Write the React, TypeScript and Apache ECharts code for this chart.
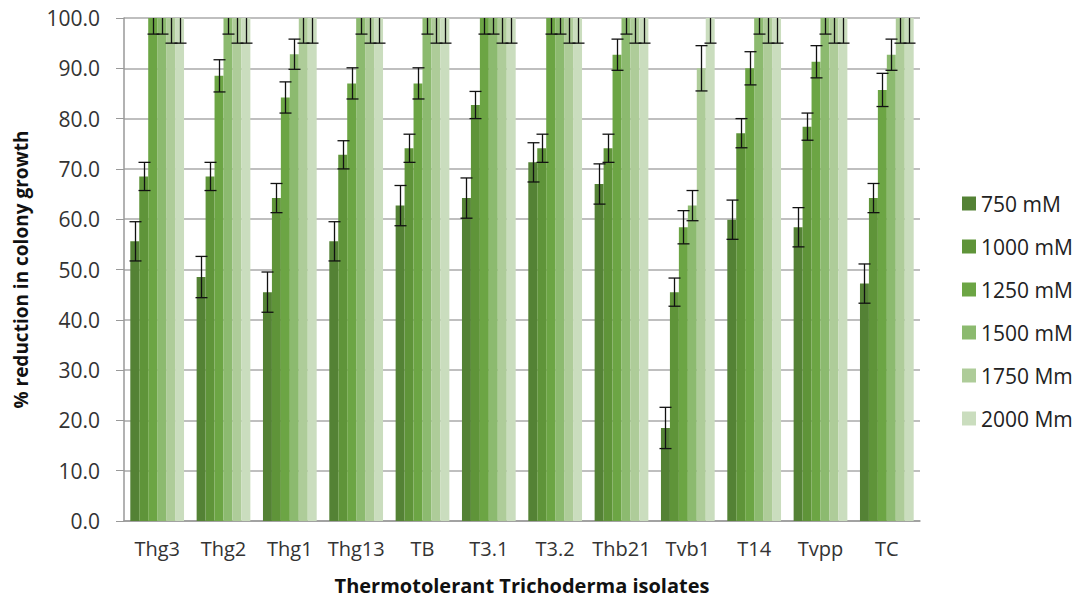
import React, { useEffect, useRef } from "react";
import * as echarts from "echarts";

const categories = ["Thg3", "Thg2", "Thg1", "Thg13", "TB", "T3.1", "T3.2", "Thb21", "Tvb1", "T14", "Tvpp", "TC"];
const seriesNames = ["750 mM", "1000 mM", "1250 mM", "1500 mM", "1750 Mm", "2000 Mm"];
const colors = ["#548235", "#5F9439", "#6CA544", "#8CBA6F", "#AECC99", "#CADDBE"];

const s750 = [55.6, 48.5, 45.5, 55.6, 62.7, 64.2, 71.3, 67.0, 18.5, 59.9, 58.4, 47.2];
const s1000 = [68.5, 68.5, 64.2, 72.8, 74.1, 82.7, 74.1, 74.1, 45.5, 77.1, 78.4, 64.2];
const s1250 = [100, 88.5, 84.2, 87.0, 87.0, 100, 100, 92.7, 58.4, 90.0, 91.3, 85.7];
const s1500 = [100, 100, 92.8, 100, 100, 100, 100, 100, 62.7, 100, 100, 92.7];
const s1750 = [100, 100, 100, 100, 100, 100, 100, 100, 90.0, 100, 100, 100];
const s2000 = [100, 100, 100, 100, 100, 100, 100, 100, 100, 100, 100, 100];

const e750 = [3.9, 4.1, 4.0, 3.9, 4.0, 4.0, 3.9, 4.0, 4.1, 3.9, 3.9, 3.9];
const e1000 = [2.8, 2.8, 2.9, 2.8, 2.8, 2.7, 2.8, 2.8, 2.8, 2.9, 2.7, 2.9];
const e1250 = [3.2, 3.2, 3.1, 3.1, 3.1, 3.2, 3.2, 3.1, 3.3, 3.3, 3.2, 3.3];
const e1500 = [3.2, 3.2, 3.0, 3.2, 3.2, 3.2, 3.2, 3.2, 3.0, 3.2, 3.2, 3.1];
const e1750 = [5.0, 5.0, 5.0, 5.0, 5.0, 5.0, 5.0, 5.0, 4.5, 5.0, 5.0, 5.0];
const e2000 = [5.0, 5.0, 5.0, 5.0, 5.0, 5.0, 5.0, 5.0, 5.0, 5.0, 5.0, 5.0];

const values = [s750, s1000, s1250, s1500, s1750, s2000];
const errors = [e750, e1000, e1250, e1500, e1750, e2000];

const CAT_GAP = 0.19;
const FONT = "'Open Sans', sans-serif";

export default function App() {
  const ref = useRef<HTMLDivElement>(null);

  useEffect(() => {
    if (!ref.current) return;
    const chart = echarts.init(ref.current, null, { renderer: "svg" });

    const errData: number[][] = [];
    values.forEach((arr, k) => {
      arr.forEach((v, i) => {
        errData.push([i, k, v, errors[k][i]]);
      });
    });

    const barSeries = seriesNames.map((name, k) => ({
      name,
      type: "bar",
      data: values[k],
      barGap: "0%",
      barCategoryGap: CAT_GAP * 100 + "%",
      itemStyle: { color: colors[k] },
    }));

    const option = {
      animation: false,
      textStyle: { fontFamily: FONT },
      grid: { left: 124, right: 165, top: 18, bottom: 78, containLabel: false },
      legend: {
        orient: "vertical",
        left: 962,
        top: 193,
        padding: 0,
        itemWidth: 14,
        itemHeight: 14,
        itemGap: 22,
        icon: "rect",
        data: seriesNames,
        textStyle: { fontFamily: FONT, fontSize: 21, color: "#222" },
      },
      xAxis: {
        type: "category",
        data: categories,
        name: "Thermotolerant Trichoderma isolates",
        nameLocation: "middle",
        nameGap: 54,
        nameTextStyle: { fontFamily: FONT, fontSize: 20, fontWeight: "bold", color: "#111" },
        axisLine: { lineStyle: { color: "#999", width: 1.5 } },
        axisTick: { show: false },
        axisLabel: { interval: 0, fontFamily: FONT, fontSize: 20, color: "#333", margin: 17 },
      },
      yAxis: {
        type: "value",
        min: 0,
        max: 100,
        interval: 10,
        name: "% reduction in colony growth",
        nameLocation: "middle",
        nameGap: 94,
        nameTextStyle: { fontFamily: FONT, fontSize: 19, fontWeight: "bold", color: "#111" },
        axisLine: { show: true, lineStyle: { color: "#999", width: 1.5 } },
        axisTick: { show: true, length: 8, lineStyle: { color: "#999" } },
        axisLabel: {
          fontFamily: FONT,
          fontSize: 21,
          color: "#333",
          margin: 24,
          formatter: (v: number) => v.toFixed(1),
        },
        splitLine: { lineStyle: { color: "#AAAAAA", width: 1.5 } },
      },
      series: [
        ...barSeries,
        {
          type: "custom",
          name: "errors",
          data: errData,
          z: 10,
          encode: { x: 0, y: 2 },
          renderItem: (params: any, api: any) => {
            const cat = api.value(0);
            const k = api.value(1);
            const v = api.value(2);
            const e = api.value(3);
            const band = api.size([1, 0])[0];
            const groupW = band * (1 - CAT_GAP);
            const bw = groupW / 6;
            const center = api.coord([cat, 0])[0];
            const x = Math.round(center - groupW / 2 + bw * (k + 0.5)) + 0.5;
            const hi = v + e;
            const yTop = api.coord([cat, Math.min(hi, 100)])[1];
            const yBot = api.coord([cat, v - e])[1];
            const capW = 6;
            const style = { stroke: "#111", lineWidth: 1.3 };
            const children: any[] = [
              { type: "line", shape: { x1: x, y1: yTop, x2: x, y2: yBot }, style },
              { type: "line", shape: { x1: x - capW, y1: yBot, x2: x + capW, y2: yBot }, style },
            ];
            if (hi <= 100) {
              children.push({ type: "line", shape: { x1: x - capW, y1: yTop, x2: x + capW, y2: yTop }, style });
            }
            return { type: "group", children };
          },
        },
      ],
    };

    chart.setOption(option as any);
    return () => chart.dispose();
  }, []);

  return <div ref={ref} style={{ width: 1085, height: 600, position: "absolute", left: 0, top: 0 }} />;
}
